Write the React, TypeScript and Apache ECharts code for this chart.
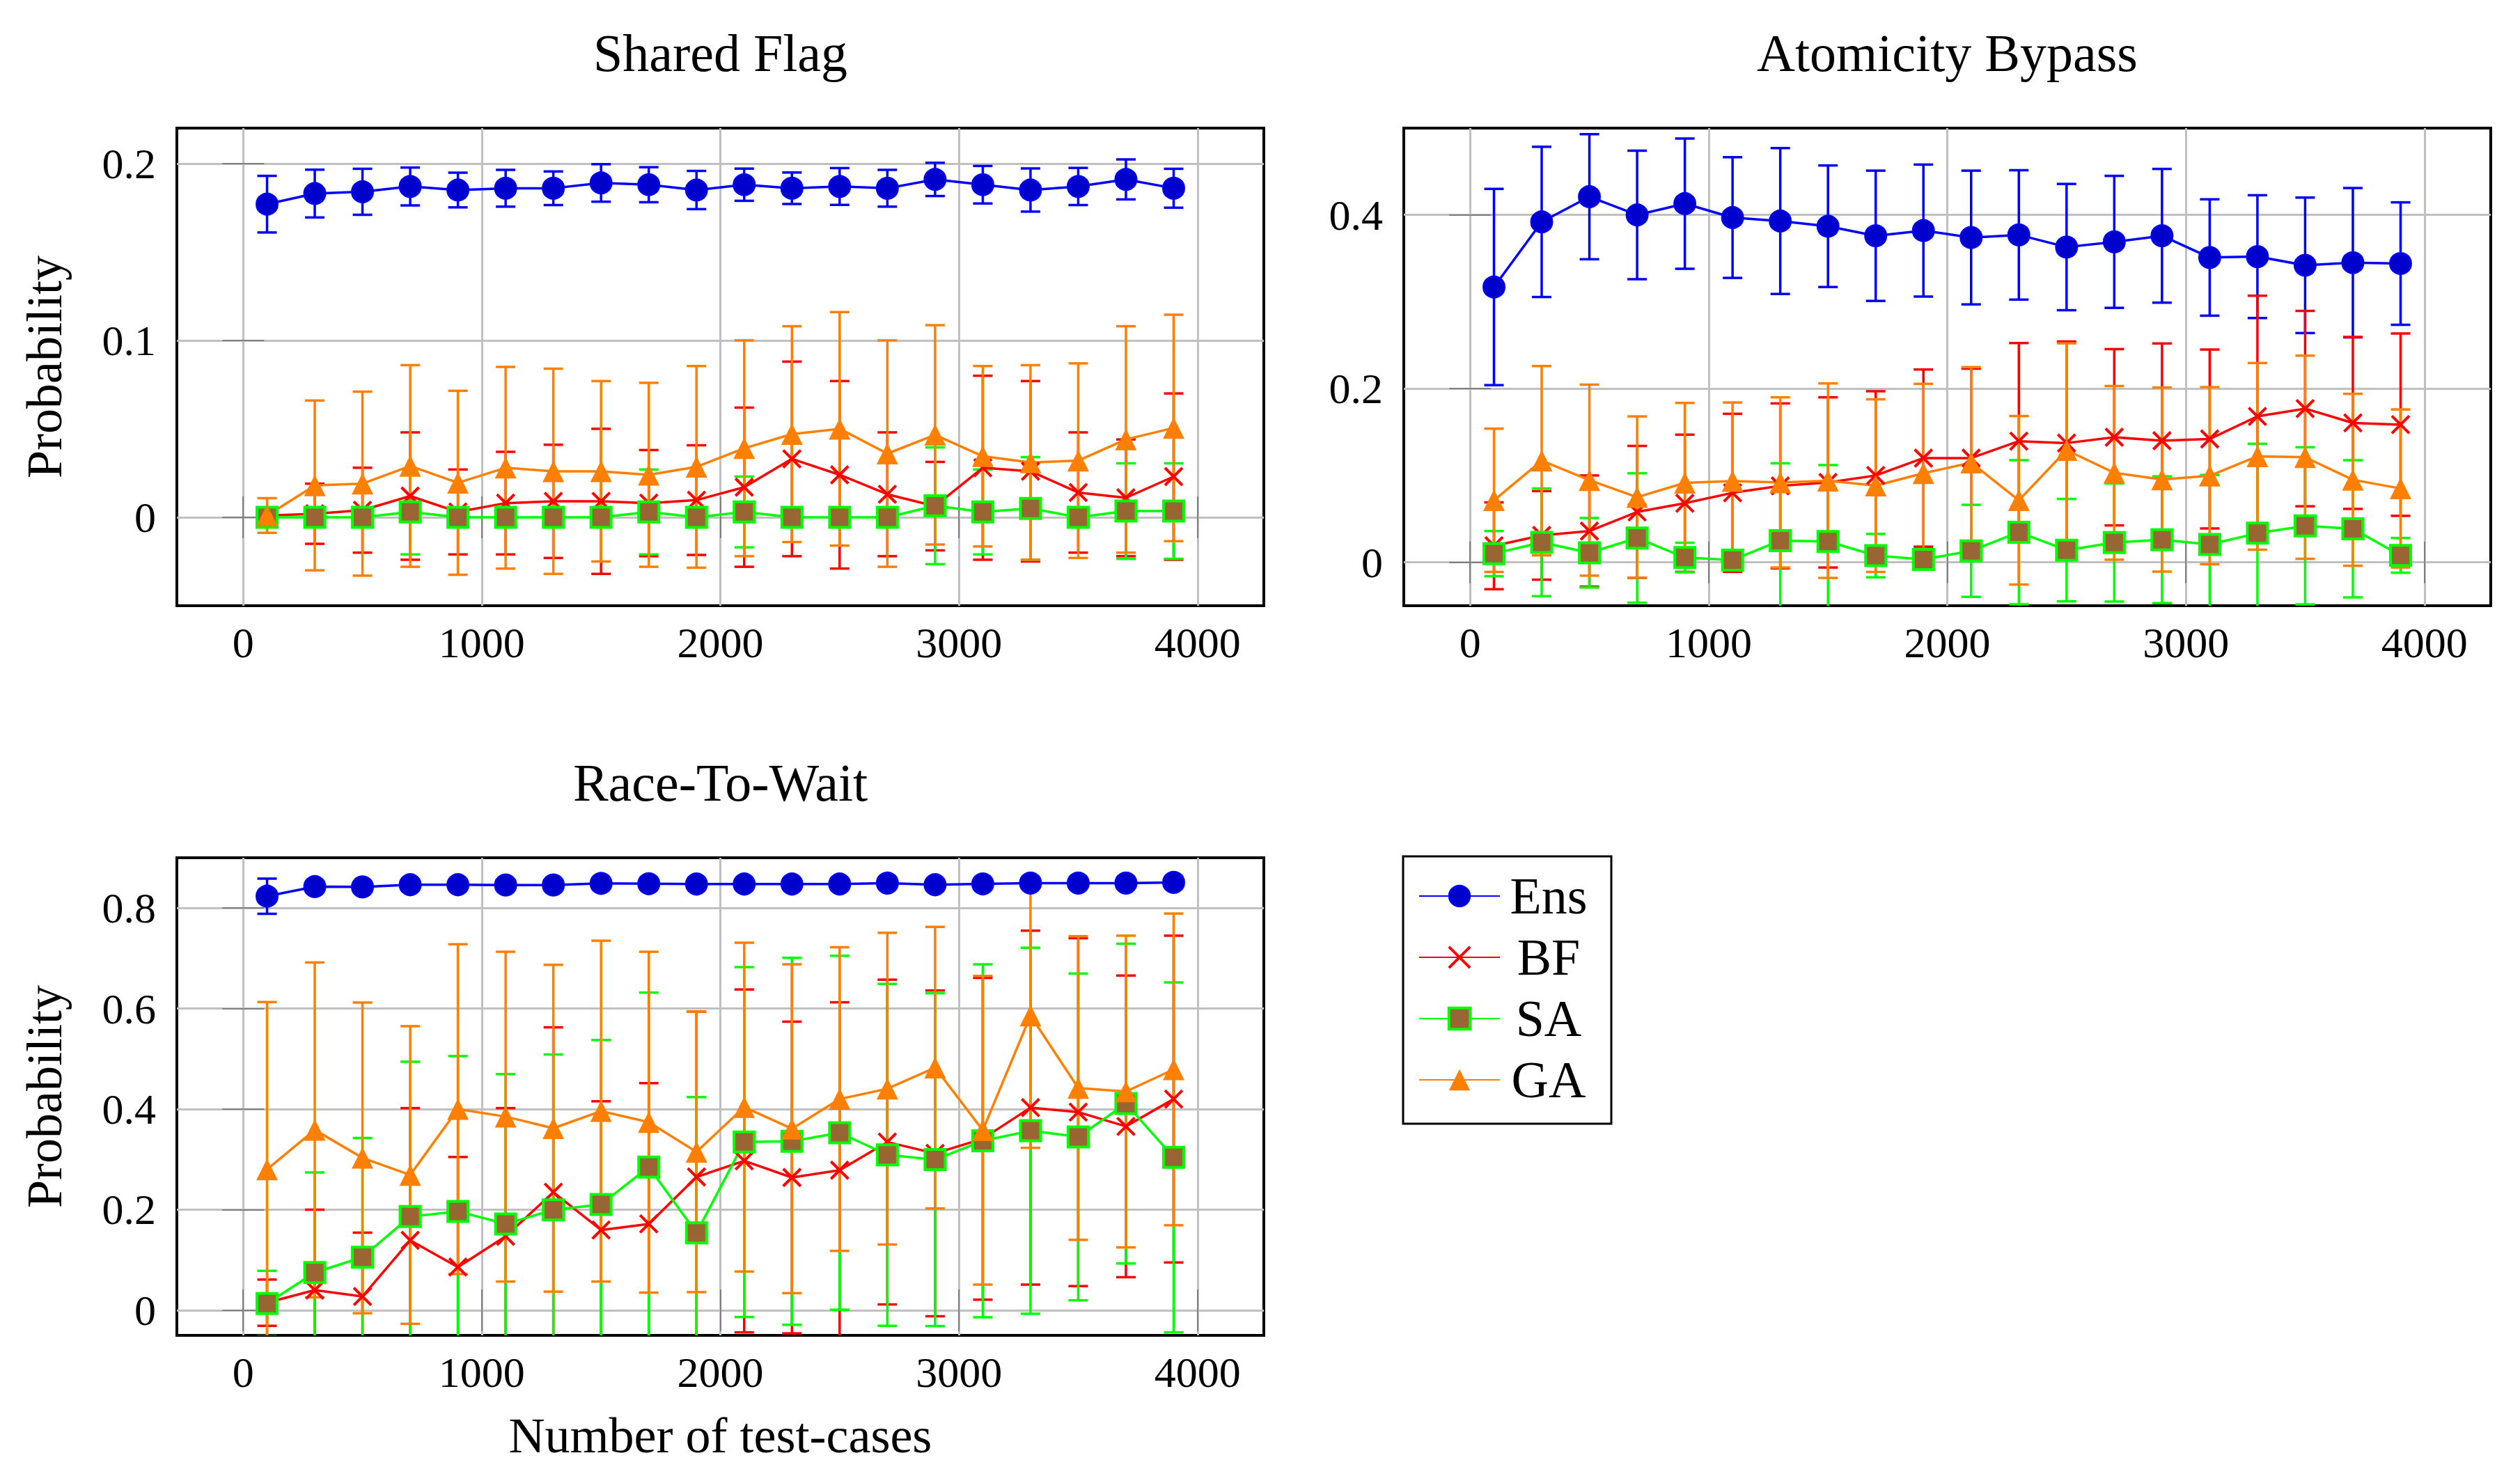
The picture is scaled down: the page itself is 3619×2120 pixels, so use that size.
import { useEffect, useRef } from "react";
import * as echarts from "echarts";

const FONT = "Liberation Serif";

// number of test-cases (x) for every curve
const X = [100, 300, 500, 700, 900, 1100, 1300, 1500, 1700, 1900, 2100, 2300, 2500, 2700, 2900, 3100, 3300, 3500, 3700, 3900];
const X_TICKS = [0, 1000, 2000, 3000, 4000];

// Shared Flag
const ensSF = [0.177, 0.183, 0.184, 0.187, 0.185, 0.186, 0.186, 0.189, 0.188, 0.185, 0.188, 0.186, 0.187, 0.186, 0.191, 0.188, 0.185, 0.187, 0.191, 0.186];
const ensSFErr = [0.016, 0.0135, 0.013, 0.0107, 0.0098, 0.0104, 0.0095, 0.0106, 0.0099, 0.0108, 0.0091, 0.0089, 0.0104, 0.0104, 0.0094, 0.0106, 0.0122, 0.0105, 0.0113, 0.011];
const bfSF = [0.001, 0.002, 0.004, 0.012, 0.003, 0.008, 0.009, 0.009, 0.008, 0.0097, 0.017, 0.033, 0.024, 0.013, 0.0063, 0.028, 0.026, 0.014, 0.011, 0.023];
const bfSFErr = [0, 0.017, 0.024, 0.036, 0.024, 0.029, 0.032, 0.041, 0.03, 0.031, 0.045, 0.055, 0.053, 0.035, 0.025, 0.052, 0.051, 0.034, 0.033, 0.047];
const saSF = [0, 0, 0, 0.003, 0, 0, 0, 0, 0.003, 0, 0.003, 0, 0, 0, 0.0065, 0.003, 0.005, 0, 0.0035, 0.0035];
const saSFErr = [0, 0, 0, 0.024, 0, 0, 0, 0, 0.024, 0, 0.02, 0, 0, 0, 0.033, 0.024, 0.029, 0, 0.027, 0.027];
const gaSF = [0.001, 0.018, 0.019, 0.029, 0.0195, 0.028, 0.026, 0.026, 0.024, 0.0285, 0.039, 0.047, 0.05, 0.036, 0.0466, 0.0345, 0.031, 0.032, 0.044, 0.0505];
const gaSFErr = [0.0098, 0.048, 0.052, 0.057, 0.052, 0.057, 0.058, 0.051, 0.052, 0.057, 0.061, 0.061, 0.066, 0.064, 0.062, 0.051, 0.055, 0.055, 0.064, 0.064];

// Atomicity Bypass
const ensAB = [0.317, 0.392, 0.421, 0.4, 0.413, 0.397, 0.393, 0.387, 0.376, 0.382, 0.374, 0.377, 0.363, 0.369, 0.376, 0.351, 0.352, 0.342, 0.345, 0.344];
const ensABErr = [0.113, 0.0865, 0.072, 0.074, 0.075, 0.0695, 0.084, 0.07, 0.075, 0.076, 0.077, 0.0745, 0.0727, 0.076, 0.077, 0.067, 0.0707, 0.078, 0.086, 0.0705];
const bfAB = [0.019, 0.031, 0.036, 0.058, 0.068, 0.08, 0.088, 0.092, 0.1, 0.12, 0.12, 0.1395, 0.1373, 0.144, 0.14, 0.142, 0.168, 0.177, 0.1605, 0.1585];
const bfABErr = [0.05, 0.051, 0.064, 0.076, 0.079, 0.091, 0.095, 0.098, 0.097, 0.102, 0.103, 0.113, 0.117, 0.1015, 0.112, 0.103, 0.139, 0.1125, 0.099, 0.105];
const saAB = [0.01, 0.023, 0.011, 0.028, 0.0055, 0.0026, 0.025, 0.024, 0.0077, 0.0033, 0.0132, 0.0346, 0.014, 0.0228, 0.026, 0.0206, 0.0335, 0.042, 0.0386, 0.008];
const saABErr = [0.026, 0.062, 0.04, 0.0745, 0.017, 0.005, 0.089, 0.088, 0.025, 0.01, 0.053, 0.083, 0.059, 0.068, 0.073, 0.08, 0.103, 0.0905, 0.079, 0.02];
const gaAB = [0.0714, 0.117, 0.0946, 0.075, 0.0915, 0.0935, 0.092, 0.094, 0.0883, 0.1025, 0.1148, 0.0714, 0.1292, 0.103, 0.0953, 0.0997, 0.122, 0.121, 0.095, 0.085];
const gaABErr = [0.0825, 0.109, 0.11, 0.093, 0.092, 0.0905, 0.098, 0.112, 0.0994, 0.103, 0.11, 0.097, 0.123, 0.1, 0.106, 0.102, 0.1075, 0.117, 0.099, 0.091];

// Race-To-Wait
const ensRW = [0.8235, 0.8426, 0.842, 0.8464, 0.8464, 0.8458, 0.8458, 0.849, 0.8483, 0.8477, 0.8477, 0.8477, 0.8477, 0.8496, 0.8464, 0.848, 0.8496, 0.8496, 0.8496, 0.851];
const ensRWErr = [0.035, 0.004, 0.006, 0.003, 0.003, 0.003, 0.003, 0.003, 0.003, 0.003, 0.003, 0.003, 0.003, 0.003, 0.003, 0.003, 0.003, 0.003, 0.003, 0.003];
const bfRW = [0.015, 0.04, 0.0273, 0.139, 0.0858, 0.147, 0.2347, 0.1596, 0.1717, 0.265, 0.297, 0.264, 0.2785, 0.3345, 0.312, 0.341, 0.403, 0.394, 0.3657, 0.42];
const bfRWErr = [0.046, 0.16, 0.127, 0.263, 0.219, 0.255, 0.328, 0.256, 0.28, 0.329, 0.341, 0.31, 0.334, 0.323, 0.324, 0.32, 0.352, 0.346, 0.3, 0.325];
const saRW = [0.0134, 0.075, 0.1056, 0.1863, 0.1965, 0.1717, 0.1997, 0.2105, 0.2849, 0.1539, 0.3345, 0.336, 0.353, 0.309, 0.2995, 0.337, 0.357, 0.3447, 0.411, 0.304];
const saRWErr = [0.065, 0.199, 0.237, 0.308, 0.309, 0.298, 0.309, 0.327, 0.347, 0.27, 0.348, 0.365, 0.352, 0.34, 0.331, 0.351, 0.364, 0.325, 0.318, 0.348];
const gaRW = [0.28, 0.3587, 0.303, 0.269, 0.4, 0.385, 0.362, 0.396, 0.374, 0.315, 0.404, 0.361, 0.42, 0.4407, 0.4825, 0.358, 0.586, 0.442, 0.435, 0.479];
const gaRWErr = [0.333, 0.333, 0.309, 0.296, 0.328, 0.328, 0.325, 0.339, 0.339, 0.279, 0.327, 0.327, 0.302, 0.31, 0.28, 0.307, 0.263, 0.302, 0.31, 0.31];

const TITLES = ["Shared Flag", "Atomicity Bypass", "Race-To-Wait"];
const Y_RANGES = [[-0.05, 0.22], [-0.05, 0.5], [-0.05, 0.9]];
const Y_TICKS = [[0, 0.1, 0.2], [0, 0.2, 0.4], [0, 0.2, 0.4, 0.6, 0.8]];
const X_RANGE = [-278, 4278];
const NAMES = ["Ens", "BF", "SA", "GA"];
const VALUES = [[ensSF, bfSF, saSF, gaSF], [ensAB, bfAB, saAB, gaAB], [ensRW, bfRW, saRW, gaRW]];
const ERRORS = [[ensSFErr, bfSFErr, saSFErr, gaSFErr], [ensABErr, bfABErr, saABErr, gaABErr], [ensRWErr, bfRWErr, saRWErr, gaRWErr]];

// pgfplots-like mark styles
const STYLES = [
  { line: "#0000ff", symbol: "circle", size: 31, fill: "#0000cc", border: "#0000ff", bw: 2 },
  { line: "#ff0000", symbol: "path://M0,0L10,10M10,0L0,10", size: 25, fill: "none", border: "#ff0000", bw: 4 },
  { line: "#00ff00", symbol: "rect", size: 29, fill: "#996633", border: "#00ff00", bw: 4 },
  { line: "#ff8000", symbol: "triangle", size: 31, fill: "#ff8000", border: "#ff8000", bw: 0 },
];

const GRIDS = [
  { left: 254, top: 184, width: 1561, height: 686 },
  { left: 2016, top: 184, width: 1561, height: 686 },
  { left: 254, top: 1232, width: 1561, height: 686 },
];

const TICK = { show: true, inside: true, length: 30, lineStyle: { color: "#808080", width: 2 } };
const SPLIT = { show: true, lineStyle: { color: "#c0c0c0", width: 3 } };
const LABEL = { color: "#000", fontFamily: FONT, fontSize: 62, lineHeight: 62 };
const NAME_STYLE = { color: "#000", fontFamily: FONT, fontSize: 72, lineHeight: 72 };

function errorSeries(gi: number, k: number) {
  const vals = VALUES[gi][k];
  const errs = ERRORS[gi][k];
  const color = STYLES[k].line;
  return {
    type: "custom",
    name: `${NAMES[k]}-err`,
    xAxisIndex: gi * 2,
    yAxisIndex: gi * 2,
    clip: true,
    silent: true,
    z: 1,
    encode: { x: 0, y: [1, 2] },
    data: X.map((x, i) => [x, vals[i] - errs[i], vals[i] + errs[i]]),
    renderItem: (_p: unknown, api: any) => {
      if (api.value(1) === api.value(2)) return null;
      const lo = api.coord([api.value(0), api.value(1)]);
      const hi = api.coord([api.value(0), api.value(2)]);
      const w = 14;
      const style = { stroke: color, lineWidth: 3.5 };
      return {
        type: "group",
        children: [
          { type: "line", shape: { x1: lo[0], y1: lo[1], x2: hi[0], y2: hi[1] }, style },
          { type: "line", shape: { x1: lo[0] - w, y1: lo[1], x2: lo[0] + w, y2: lo[1] }, style },
          { type: "line", shape: { x1: hi[0] - w, y1: hi[1], x2: hi[0] + w, y2: hi[1] }, style },
        ],
      };
    },
  };
}

function lineSeries(gi: number, k: number) {
  const s = STYLES[k];
  return {
    type: "line",
    name: NAMES[k],
    xAxisIndex: gi * 2,
    yAxisIndex: gi * 2,
    data: X.map((x, i) => [x, VALUES[gi][k][i]]),
    symbol: s.symbol,
    symbolSize: s.size,
    showSymbol: true,
    showAllSymbol: true,
    z: 3,
    lineStyle: { color: s.line, width: 3.5 },
    itemStyle: { color: s.fill, borderColor: s.border, borderWidth: s.bw },
  };
}

export default function App() {
  const ref = useRef<HTMLDivElement>(null);

  useEffect(() => {
    if (!ref.current) return;
    const inst = echarts.init(ref.current, null, { renderer: "svg" });

    const xAxis: any[] = [];
    const yAxis: any[] = [];
    GRIDS.forEach((_, gi) => {
      xAxis.push({
        type: "value", gridIndex: gi, position: "bottom",
        min: X_RANGE[0], max: X_RANGE[1],
        axisLine: { show: false },
        axisTick: { ...TICK, customValues: X_TICKS },
        axisLabel: { ...LABEL, margin: 22, customValues: X_TICKS, formatter: (v: number) => String(Math.round(v)) },
        splitLine: SPLIT,
        name: gi === 2 ? "Number of test-cases" : "",
        nameLocation: "middle", nameGap: 108, nameTextStyle: NAME_STYLE,
      });
      xAxis.push({
        type: "value", gridIndex: gi, position: "top",
        min: X_RANGE[0], max: X_RANGE[1],
        axisLine: { show: false },
        axisTick: { ...TICK, customValues: X_TICKS },
        axisLabel: { show: false, customValues: X_TICKS },
        splitLine: { show: false },
      });
      yAxis.push({
        type: "value", gridIndex: gi, position: "left",
        min: Y_RANGES[gi][0], max: Y_RANGES[gi][1],
        axisLine: { show: false },
        axisTick: { ...TICK, customValues: Y_TICKS[gi] },
        axisLabel: { ...LABEL, margin: 30, customValues: Y_TICKS[gi], formatter: (v: number) => String(+v.toFixed(2)) },
        splitLine: SPLIT,
        name: gi === 1 ? "" : "Probability",
        nameLocation: "middle", nameRotate: 90, nameGap: 154, nameTextStyle: NAME_STYLE,
      });
      yAxis.push({
        type: "value", gridIndex: gi, position: "right",
        min: Y_RANGES[gi][0], max: Y_RANGES[gi][1],
        axisLine: { show: false },
        axisTick: { ...TICK, customValues: Y_TICKS[gi] },
        axisLabel: { show: false, customValues: Y_TICKS[gi] },
        splitLine: { show: false },
      });
    });

    const series: any[] = [];
    GRIDS.forEach((_, gi) => {
      NAMES.forEach((_n, k) => series.push(lineSeries(gi, k)));
    });
    GRIDS.forEach((_, gi) => {
      NAMES.forEach((_n, k) => series.push(errorSeries(gi, k)));
    });

    inst.setOption({
      animation: false,
      backgroundColor: "#fff",
      grid: GRIDS.map((g) => ({ ...g, show: true, borderColor: "#000", borderWidth: 4, backgroundColor: "transparent" })),
      xAxis,
      yAxis,
      legend: {
        orient: "vertical",
        left: 2015,
        top: 1230,
        selectedMode: false,
        data: NAMES.map((n, k) => ({ name: n, itemStyle: { borderWidth: STYLES[k].bw } })),
        itemWidth: 116,
        itemHeight: 38,
        itemGap: 14,
        padding: [20, 25, 26, 22],
        borderColor: "#000",
        borderWidth: 3,
        formatter: (n: string) => `{t|${n}}`,
        textStyle: {
          color: "#000", fontFamily: FONT, fontSize: 74,
          rich: { t: { width: 130, align: "center", fontSize: 74, lineHeight: 72, fontFamily: FONT, color: "#000" } },
        },
      },
      graphic: TITLES.map((t, gi) => ({
        type: "text",
        x: GRIDS[gi].left + GRIDS[gi].width / 2,
        y: GRIDS[gi].top - 108,
        style: { text: t, fontFamily: FONT, fontSize: 76, fill: "#000", textAlign: "center", textVerticalAlign: "middle" },
      })),
      series,
    });

    return () => inst.dispose();
  }, []);

  return (
    <div
      ref={ref}
      style={{ position: "fixed", left: 0, top: 0, width: 3619, height: 2120, background: "#fff" }}
    />
  );
}
